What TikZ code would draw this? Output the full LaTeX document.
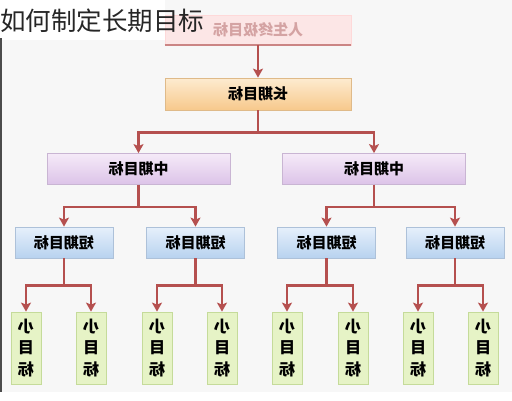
\documentclass[tikz,border=0pt]{standalone}
\usepackage{graphicx}
\usepackage{fontspec}
\newfontfamily\cjk{Noto Sans CJK SC}
\usetikzlibrary{arrows.meta}

\definecolor{linkred}{HTML}{B5504F}
\definecolor{pinkfill}{HTML}{FCE6E6}
\definecolor{pinktext}{HTML}{D4A3A3}
\definecolor{orangetop}{HTML}{FDEBD0}
\definecolor{orangebot}{HTML}{F7C98C}
\definecolor{purpletop}{HTML}{F5EAF8}
\definecolor{purplebot}{HTML}{DCC3E8}
\definecolor{bluetop}{HTML}{E6F0FB}
\definecolor{bluebot}{HTML}{B8D2EF}
\definecolor{greenfill}{HTML}{E6F3C6}
\definecolor{greenline}{HTML}{C5DB9A}

\newcommand{\mir}[1]{\reflectbox{#1}}

\begin{document}
\begin{tikzpicture}[x=1pt, y=-1pt,
	every node/.style = {inner sep=0pt, font=\cjk\bfseries\fontsize{15}{17}\selectfont},
	goalbox/.style = {rectangle, draw=#1, line width=0.8pt},
	topgoal/.style = {goalbox=pinkfill!70!red!40, fill=pinkfill, text=pinktext,
		minimum width=186pt, minimum height=30pt},
	longgoal/.style = {goalbox=orangebot!80!gray, top color=orangetop, bottom color=orangebot,
		minimum width=186pt, minimum height=32pt},
	midgoal/.style = {goalbox=purplebot!80!gray, top color=purpletop, bottom color=purplebot,
		minimum width=183pt, minimum height=31pt},
	shortgoal/.style = {goalbox=bluebot!80!gray, top color=bluetop, bottom color=bluebot,
		minimum width=98pt, minimum height=31pt},
	smallgoal/.style = {goalbox=greenline, fill=greenfill, align=center,
		minimum width=30pt, minimum height=72pt, font=\cjk\bfseries\fontsize{16}{21.5}\selectfont},
	link/.style = {draw=linkred, line width=2.2pt, -{Stealth[length=9pt,width=10pt,inset=2pt]}}
	]
	% background
	\fill[gray!6] (0,0) rectangle (512,400);
	\fill[white] (0,0) rectangle (165,40);
	\fill[white] (0,392) rectangle (512,400);
	\draw[black!70, line width=1.6pt] (1,38) -- (1,392);

	% goal boxes
	\node[topgoal] (life) at (258,30) {\mir{人生终极目标}};
	\draw[linkred!70, line width=2pt] (life.south west) -- (life.south east);
	\node[longgoal] (long) at (258,94) {\mir{长期目标}};

	\node[midgoal] (midL) at (138.5,169) {\mir{中期目标}};
	\node[midgoal] (midR) at (374,169) {\mir{中期目标}};

	\node[shortgoal] (shortA) at (64,242.5) {\mir{短期目标}};
	\node[shortgoal] (shortB) at (195.5,242.5) {\mir{短期目标}};
	\node[shortgoal] (shortC) at (326.5,242.5) {\mir{短期目标}};
	\node[shortgoal] (shortD) at (455,242.5) {\mir{短期目标}};

	\foreach \name/\x in {smallA1/26, smallA2/91, smallB1/157, smallB2/222,
		smallC1/287, smallC2/353, smallD1/418, smallD2/483}
		\node[smallgoal] (\name) at (\x,348) {\mir{小}\\\mir{目}\\\mir{标}};

	% title, over the top box
	\node[anchor=west, font=\cjk\fontsize{25.5}{27}\selectfont, text=black!85] (title) at (0,21) {如何制定长期目标};

	% connectors
	\draw[link] (life) -- (long);
	\draw[link] (long.south) -- ++(0,22) -| (midL);
	\draw[link] (long.south) -- ++(0,22) -| (midR);

	\draw[link] (midL.south) -- ++(0,22) -| (shortA);
	\draw[link] (midL.south) -- ++(0,22) -| (shortB);
	\draw[link] (midR.south) -- ++(0,22) -| (shortC);
	\draw[link] (midR.south) -- ++(0,22) -| (shortD);

	\foreach \s/\a/\b in {shortA/smallA1/smallA2, shortB/smallB1/smallB2,
		shortC/smallC1/smallC2, shortD/smallD1/smallD2} {
		\draw[link] (\s.south) -- ++(0,27) -| (\a);
		\draw[link] (\s.south) -- ++(0,27) -| (\b);
	}
\end{tikzpicture}
\end{document}
